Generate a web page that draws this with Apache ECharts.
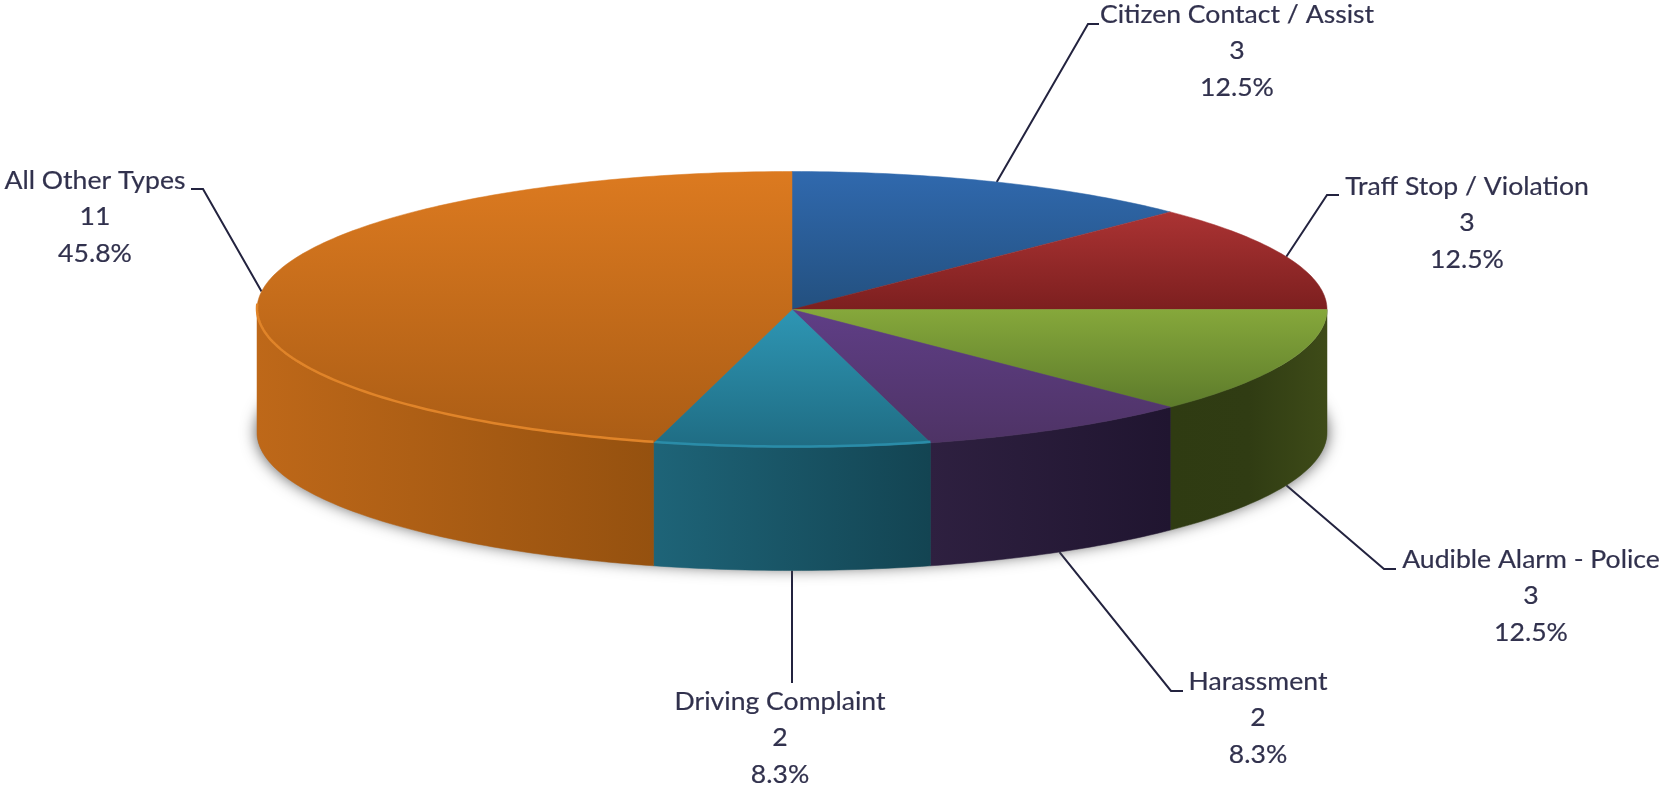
<!DOCTYPE html>
<html>
<head>
<meta charset="utf-8">
<title>Call types</title>
<style>
	html, body { margin: 0; padding: 0; background: #fff; }
	#chart { width: 1666px; height: 786px; }
</style>
<script src="https://cdn.jsdelivr.net/npm/echarts@6/dist/echarts.min.js"></script>
</head>
<body>
<div id="chart"></div>
<script>
	// data
	var names = ['Citizen Contact / Assist', 'Traff Stop / Violation', 'Audible Alarm - Police', 'Harassment', 'Driving Complaint', 'All Other Types'];
	var values = [3, 3, 3, 2, 2, 11];

	// look of the slices: top gradient, side gradient, rim highlight
	var topColors = [['#3069AE', '#23507F'], ['#AB3333', '#7C1F1F'], ['#86A83B', '#5D7B2B'], ['#5F3E86', '#4E3365'], ['#2E96B4', '#1F6C83'], ['#DC7A20', '#AB5D15']];
	var sideColors = [['#23507F', '#23507F'], ['#7C1F1F', '#7C1F1F'], ['#2F3B12', '#303C13', '#3E4B18'], ['#2E2040', '#201530'], ['#1E6478', '#134452'], ['#BE6819', '#95510F']];
	var rimColors = [null, null, null, null, '#2A8CA8', '#E08429'];

	// pie geometry in pixels
	var cx = 792, cy = 309.5, rx = 535, ry = 138, depth = 123;

	// label placement: text centre x, first line y, elbow and end of leader line
	var labelLayout = [
		{ x: 1237, y: 15, line: [[1088, 24], [1099, 24]] },
		{ x: 1467, y: 187, line: [[1327, 195], [1339, 195]] },
		{ x: 1531, y: 560, line: [[1384, 569], [1396, 569]] },
		{ x: 1258, y: 682, line: [[1171, 691], [1183, 691]] },
		{ x: 780, y: 702, line: [[792, 683]] },
		{ x: 95, y: 181, line: [[203, 189], [191, 189]] }
	];
	var lineGap = 36.3;
	var textColor = '#31314D';
	var lineColor = '#23233F';
	var labelFont = '24.5px Lato';
	var labelStretch = 1.085;

	var total = values.reduce(function (a, b) { return a + b; }, 0);
	var startAngles = [];
	var sum = 0;
	values.forEach(function (v) {
		startAngles.push(sum / total * 360);
		sum += v;
	});

	function rimPoint(deg, dy) {
		var t = deg * Math.PI / 180;
		return [cx + rx * Math.sin(t), cy + (dy || 0) - ry * Math.cos(t)];
	}

	function arcPoints(from, to, dy) {
		var pts = [];
		var n = Math.max(2, Math.ceil(Math.abs(to - from)));
		for (var i = 0; i <= n; i++) {
			pts.push(rimPoint(from + (to - from) * i / n, dy));
		}
		return pts;
	}

	function gradient(stops, horizontal) {
		return new echarts.graphic.LinearGradient(0, 0, horizontal ? 1 : 0, horizontal ? 0 : 1, stops.map(function (c, i) {
			return { offset: i / (stops.length - 1), color: c };
		}));
	}

	function sliceRange(i) {
		var from = startAngles[i];
		return [from, from + values[i] / total * 360];
	}

	// soft shadow under the pie
	function renderShadow() {
		return {
			type: 'ellipse',
			shape: { cx: cx, cy: cy + depth, rx: rx, ry: ry - 3 },
			style: { fill: '#777777', shadowBlur: 16, shadowColor: 'rgba(80,80,80,1)' },
			silent: true
		};
	}

	// only the front half of the pie shows a side wall
	function renderSide(params) {
		var i = params.dataIndex;
		var r = sliceRange(i);
		var from = Math.max(r[0], 90), to = Math.min(r[1], 270);
		if (to <= from) {
			return { type: 'group', children: [] };
		}
		var fill = gradient(sideColors[i], true);
		return {
			type: 'polygon',
			shape: { points: arcPoints(from, to).concat(arcPoints(to, from, depth)) },
			style: { fill: fill, stroke: fill, lineWidth: 0.5 },
			silent: true
		};
	}

	function renderTop(params) {
		var i = params.dataIndex;
		var r = sliceRange(i);
		var fill = gradient(topColors[i]);
		var children = [{
			type: 'polygon',
			shape: { points: [[cx, cy]].concat(arcPoints(r[0], r[1])) },
			style: { fill: fill, stroke: fill, lineWidth: 0.5 }
		}];
		if (rimColors[i]) {
			children.push({
				type: 'polyline',
				shape: { points: arcPoints(r[0], Math.min(r[1], 272), -1) },
				style: { fill: null, stroke: rimColors[i], lineWidth: 2.5 }
			});
		}
		return { type: 'group', children: children, silent: true };
	}

	function renderLabel(params) {
		var i = params.dataIndex;
		var r = sliceRange(i);
		var mid = (r[0] + r[1]) / 2;
		var front = mid > 90 && mid < 270;
		var layout = labelLayout[i];
		var lines = [names[i], String(values[i]), (values[i] / total * 100).toFixed(1) + '%'];
		var children = [{
			type: 'polyline',
			shape: { points: [rimPoint(mid, front ? depth : 0)].concat(layout.line) },
			style: { fill: null, stroke: lineColor, lineWidth: 2 }
		}];
		lines.forEach(function (text, k) {
			children.push({
				type: 'text',
				x: layout.x,
				y: layout.y + k * lineGap,
				scaleX: labelStretch,
				style: {
					x: 0,
					y: 0,
					text: text,
					fill: textColor,
					stroke: textColor,
					lineWidth: 0.2,
					font: labelFont,
					textAlign: 'center',
					textVerticalAlign: 'middle'
				}
			});
		});
		return { type: 'group', children: children, silent: true };
	}

	var sliceData = names.map(function (n, i) {
		return { name: n, value: values[i] };
	});

	var myChart = echarts.init(document.getElementById('chart'));
	myChart.setOption({
		backgroundColor: '#ffffff',
		animation: false,
		series: [
			{ type: 'custom', coordinateSystem: 'none', z: 1, renderItem: renderLabel, data: sliceData },
			{ type: 'custom', coordinateSystem: 'none', z: 2, renderItem: renderShadow, data: [0] },
			{ type: 'custom', coordinateSystem: 'none', z: 3, renderItem: renderSide, data: sliceData },
			{ type: 'custom', coordinateSystem: 'none', z: 4, renderItem: renderTop, data: sliceData }
		]
	});
</script>
</body>
</html>
